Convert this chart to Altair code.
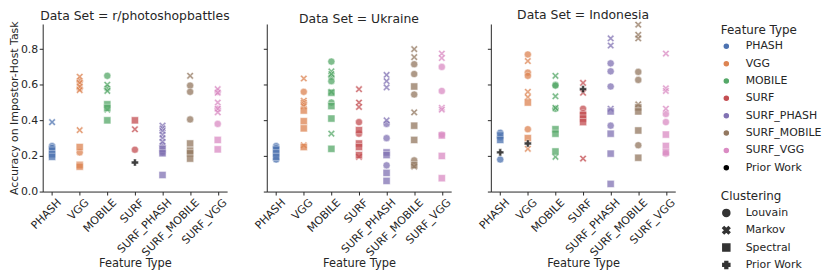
import altair as alt
import pandas as pd

FEATURES = ["PHASH", "VGG", "MOBILE", "SURF", "SURF_PHASH", "SURF_MOBILE", "SURF_VGG"]
DATASETS = ["r/photoshopbattles", "Ukraine", "Indonesia"]
CLUSTERINGS = ["Louvain", "Markov", "Spectral", "Prior Work"]
HUES = FEATURES + ["Prior Work"]
COLORS = ["#4C72B0", "#DD8452", "#55A868", "#C44E52", "#8172B3", "#937860", "#DA8BC3", "#000000"]
Y_TICKS = [0.0, 0.2, 0.4, 0.6, 0.8]

# r/photoshopbattles
psb_louvain = {"PHASH": [0.255, 0.245], "VGG": [0.62, 0.58, 0.22], "MOBILE": [0.65, 0.58],
               "SURF": [0.235], "SURF_PHASH": [0.26, 0.23, 0.22],
               "SURF_MOBILE": [0.595, 0.56, 0.405], "SURF_VGG": [0.56, 0.465, 0.38]}
psb_markov = {"PHASH": [0.39], "VGG": [0.645, 0.61, 0.59, 0.57, 0.345], "MOBILE": [0.60, 0.565, 0.46],
              "SURF": [0.35], "SURF_PHASH": [0.37, 0.355, 0.34, 0.32, 0.30, 0.28],
              "SURF_MOBILE": [0.65], "SURF_VGG": [0.575, 0.555, 0.50, 0.465, 0.445]}
psb_spectral = {"PHASH": [0.23, 0.21, 0.195], "VGG": [0.25, 0.15, 0.14], "MOBILE": [0.49, 0.47, 0.40],
                "SURF": [0.40], "SURF_PHASH": [0.24, 0.215, 0.093],
                "SURF_MOBILE": [0.27, 0.23, 0.215, 0.185], "SURF_VGG": [0.29, 0.237]}
psb_prior = {"SURF": [0.163]}

# Ukraine
ukr_louvain = {"PHASH": [0.255, 0.245, 0.18], "VGG": [0.56, 0.50], "MOBILE": [0.73, 0.645, 0.62, 0.50],
               "SURF": [0.39, 0.325], "SURF_PHASH": [0.38, 0.30, 0.147],
               "SURF_MOBILE": [0.715, 0.66, 0.545, 0.175], "SURF_VGG": [0.70, 0.565, 0.32]}
ukr_markov = {"PHASH": [], "VGG": [0.635, 0.51, 0.50, 0.49, 0.48, 0.26], "MOBILE": [0.675, 0.66, 0.56, 0.325],
              "SURF": [0.575, 0.50, 0.475, 0.195], "SURF_PHASH": [0.655, 0.62, 0.585, 0.40],
              "SURF_MOBILE": [0.80, 0.755, 0.445, 0.14], "SURF_VGG": [0.775, 0.75, 0.47, 0.46]}
ukr_spectral = {"PHASH": [0.235, 0.215, 0.195], "VGG": [0.455, 0.395, 0.355, 0.25],
                "MOBILE": [0.555, 0.48, 0.41, 0.24], "SURF": [0.345, 0.27, 0.25, 0.205],
                "SURF_PHASH": [0.22, 0.205, 0.105, 0.06], "SURF_MOBILE": [0.59, 0.37, 0.29, 0.148],
                "SURF_VGG": [0.315, 0.20, 0.075]}
ukr_prior = {}

# Indonesia
idn_louvain = {"PHASH": [0.33, 0.305, 0.18], "VGG": [0.77, 0.668, 0.65, 0.35], "MOBILE": [0.60, 0.595, 0.465],
               "SURF": [0.465, 0.44], "SURF_PHASH": [0.72, 0.675, 0.59, 0.37],
               "SURF_MOBILE": [0.672, 0.627, 0.26], "SURF_VGG": [0.436, 0.39, 0.213]}
idn_markov = {"PHASH": [], "VGG": [0.733, 0.56, 0.53, 0.24], "MOBILE": [0.65, 0.535, 0.47, 0.195],
              "SURF": [0.61, 0.555, 0.185], "SURF_PHASH": [0.86, 0.82, 0.465],
              "SURF_MOBILE": [0.937, 0.88, 0.86, 0.49], "SURF_VGG": [0.775, 0.58, 0.565, 0.465]}
idn_spectral = {"PHASH": [0.315, 0.29], "VGG": [0.50, 0.30], "MOBILE": [0.35, 0.325, 0.225],
                "SURF": [0.43, 0.41, 0.39], "SURF_PHASH": [0.45, 0.325, 0.213, 0.043],
                "SURF_MOBILE": [0.473, 0.45, 0.343, 0.19], "SURF_VGG": [0.32, 0.256, 0.22]}
idn_prior = {"PHASH": [0.22], "VGG": [0.27], "SURF": [0.575]}

SOURCES = {
    "r/photoshopbattles": {"Louvain": psb_louvain, "Markov": psb_markov, "Spectral": psb_spectral, "Prior Work": psb_prior},
    "Ukraine": {"Louvain": ukr_louvain, "Markov": ukr_markov, "Spectral": ukr_spectral, "Prior Work": ukr_prior},
    "Indonesia": {"Louvain": idn_louvain, "Markov": idn_markov, "Spectral": idn_spectral, "Prior Work": idn_prior},
}

rows = []
for ds, groups in SOURCES.items():
    for clus, d in groups.items():
        for feat, vals in d.items():
            for v in vals:
                rows.append({"Data Set": ds, "Position": feat,
                             "Feature Type": "Prior Work" if clus == "Prior Work" else feat,
                             "Clustering": clus, "Accuracy": v})
df = pd.DataFrame(rows)

X_PATH = "M-1,-0.6L-0.6,-1L0,-0.4L0.6,-1L1,-0.6L0.4,0L1,0.6L0.6,1L0,0.4L-0.6,1L-1,0.6L-0.4,0Z"
FONT = "DejaVu Sans"
TXT = "#262626"


def panel(ds, first):
    if first:
        yaxis = alt.Axis(title="Accuracy on Impostor-Host Task", values=Y_TICKS, format=".1f",
                         grid=False, titleFontWeight="normal", titleFontSize=11, labelFontSize=11,
                         titlePadding=1, labelPadding=1.5)
    else:
        yaxis = alt.Axis(title=None, labels=False, values=Y_TICKS, grid=False)
    return alt.Chart(df[df["Data Set"] == ds]).mark_point(
        filled=True, opacity=0.75, stroke="white", strokeWidth=0.5, size=52
    ).encode(
        x=alt.X("Position:N", sort=FEATURES,
                scale=alt.Scale(domain=FEATURES, type="point", padding=0.34),
                axis=alt.Axis(title="Feature Type", labelAngle=-45, labelAlign="right",
                              labelBaseline="top", labelOffset=3, labelPadding=1.5,
                              grid=False, titleFontWeight="normal", titleFontSize=11.5,
                              labelFontSize=11, titlePadding=0)),
        y=alt.Y("Accuracy:Q", scale=alt.Scale(domain=[0, 0.941], nice=False), axis=yaxis),
        color=alt.Color("Feature Type:N", scale=alt.Scale(domain=HUES, range=COLORS),
                        legend=alt.Legend(title="Feature Type", symbolType="circle",
                                          orient="none", legendX=684, legendY=1)),
        shape=alt.Shape("Clustering:N", scale=alt.Scale(domain=CLUSTERINGS,
                                                        range=["circle", X_PATH, "square", "cross"]),
                        legend=alt.Legend(title="Clustering", symbolFillColor="#333333",
                                          symbolStrokeColor="#333333",
                                          orient="none", legendX=684, legendY=169)),
    ).properties(
        width=186, height=169,
        title=alt.TitleParams(f"Data Set = {ds}", fontSize=12.5, fontWeight="normal",
                              font=FONT, color=TXT, offset=-1.5),
    )


chart = alt.hconcat(*[panel(ds, i == 0) for i, ds in enumerate(DATASETS)],
                    spacing=40, bounds="flush").configure(
    font=FONT, padding=0,
).configure_view(stroke=None).configure_axis(
    domainColor=TXT, tickColor=TXT, labelColor=TXT, titleColor=TXT, tickSize=3.5,
    labelFont=FONT, titleFont=FONT, domainWidth=1, tickWidth=1,
).configure_legend(
    titleFontWeight="normal", titleFontSize=12, labelFontSize=11,
    titleColor=TXT, labelColor=TXT, symbolSize=50, rowPadding=2.5, labelOffset=14,
    symbolOpacity=1, padding=0, titlePadding=4,
)

chart.save("out.html", embed_options={"renderer": "svg", "actions": False})
